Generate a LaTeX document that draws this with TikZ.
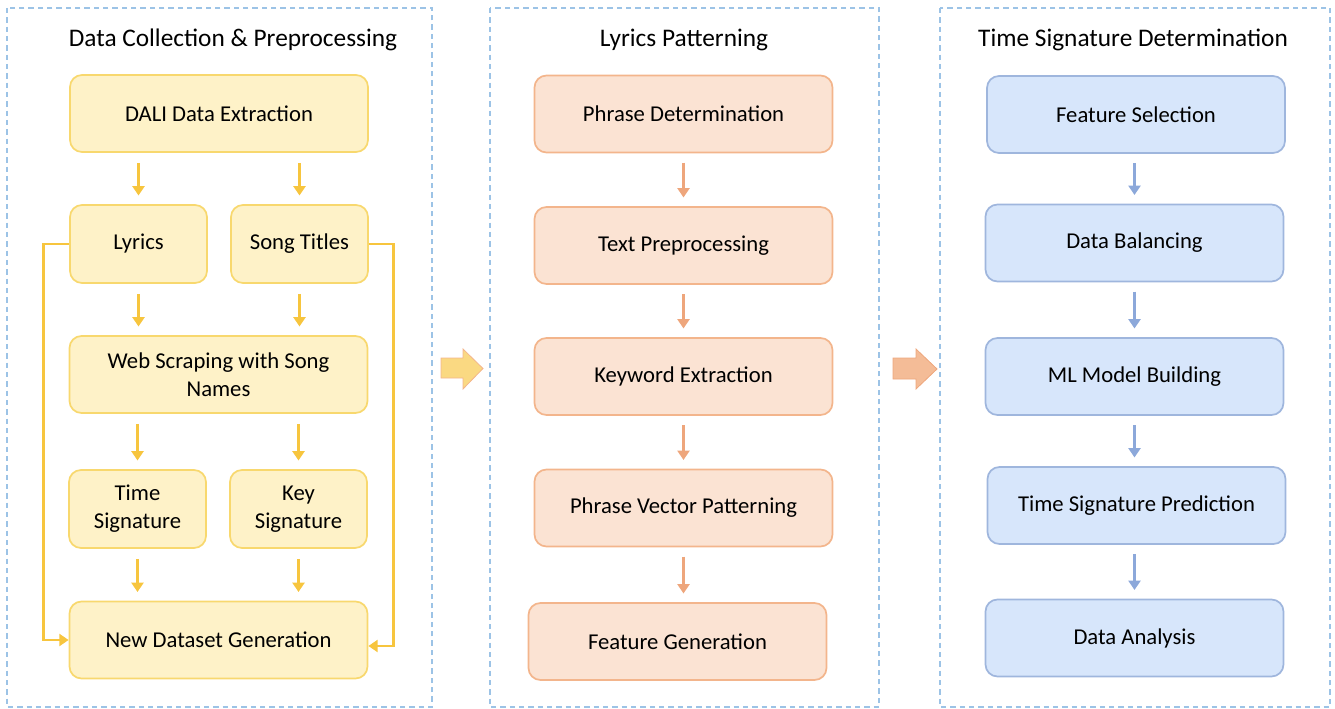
\documentclass[tikz,border=0pt]{standalone}
\usepackage{fontspec}
\setmainfont{Carlito}
\usetikzlibrary{arrows.meta}
\tikzset{
  box/.style={rounded corners=9pt,line width=1.3pt,align=center,inner sep=2pt,
    font=\fontsize{17}{21}\selectfont},
  wide/.style={minimum width=298*0.75pt,minimum height=77*0.75pt},
  small/.style={minimum width=137*0.75pt,minimum height=78*0.75pt},
  ybox/.style={box,draw=yborder,fill=yfill},
  obox/.style={box,draw=oborder,fill=ofill},
  bbox/.style={box,draw=bborder,fill=bfill},
  tip/.style={-{Triangle[width=9pt,length=7pt]}},
  yarr/.style={draw=yline,line width=2.1pt,tip,shorten <=7.5pt,shorten >=6.5pt},
  oarr/.style={draw=oline,line width=1.7pt,tip,shorten <=7pt,shorten >=6.5pt},
  barr/.style={draw=bline,line width=1.7pt,tip,shorten <=7pt,shorten >=6.5pt},
  loop/.style={draw=yline,line width=2.1pt,tip},
  panel/.style={draw=dash,line width=0.9pt,dash pattern=on 4pt off 3pt},
  title/.style={font=\fontsize{19}{22}\selectfont}
}
\begin{document}
\begin{tikzpicture}[x=0.75pt,y=-0.75pt]
  \definecolor{yfill}{HTML}{FEF2C8}
  \definecolor{yborder}{HTML}{F8D86E}
  \definecolor{yline}{HTML}{F7C53E}
  \definecolor{ofill}{HTML}{FBE3D3}
  \definecolor{oborder}{HTML}{F3B58C}
  \definecolor{oline}{HTML}{EEA67C}
  \definecolor{bfill}{HTML}{D7E6FB}
  \definecolor{bborder}{HTML}{9FB6DD}
  \definecolor{bline}{HTML}{8CA8DA}
  \definecolor{dash}{HTML}{9CC3E6}
  \useasboundingbox (0,0) rectangle (1335,709);
  \draw[panel] (7,8) rectangle (432,707);
  \draw[panel] (490,8) rectangle (879,707);
  \draw[panel] (940,8) rectangle (1330,707);
  \node[title] (t1) at (233,40) {Data Collection \& Preprocessing};
  \node[title] (t2) at (684,40) {Lyrics Patterning};
  \node[title] (t3) at (1133,40) {Time Signature Determination};
  % first column
  \node[ybox,wide] (dali) at (219,113.5) {DALI Data Extraction};
  \node[ybox,small] (lyrics) at (138.5,244) {Lyrics};
  \node[ybox,small] (songs) at (299.5,244) {Song Titles};
  \node[ybox,wide] (web) at (218.5,374.5) {Web Scraping with Song\\Names};
  \node[ybox,small] (time) at (137.5,509) {Time\\Signature};
  \node[ybox,small] (key) at (298.5,509) {Key\\Signature};
  \node[ybox,wide] (new) at (218.5,640) {New Dataset Generation};
  \draw[yarr] (lyrics.north |- dali.south) -- (lyrics.north);
  \draw[yarr] (songs.north |- dali.south) -- (songs.north);
  \draw[yarr] (lyrics.south) -- (lyrics.south |- web.north);
  \draw[yarr] (songs.south) -- (songs.south |- web.north);
  \draw[yarr] (time.north |- web.south) -- (time.north);
  \draw[yarr] (key.north |- web.south) -- (key.north);
  \draw[yarr] (time.south) -- (time.south |- new.north);
  \draw[yarr] (key.south) -- (key.south |- new.north);
  \draw[loop] (lyrics.west) -- ++(-26,0) |- (new.west);
  \draw[loop] (songs.east) -- ++(25,0) |- ([yshift=-4.5pt]new.east);
  % second column
  \node[obox,wide] (phrase) at (683.5,114) {Phrase Determination};
  \node[obox,wide] (text) at (683.5,245.5) {Text Preprocessing};
  \node[obox,wide] (keyword) at (683.5,376.5) {Keyword Extraction};
  \node[obox,wide] (vector) at (683.5,508) {Phrase Vector Patterning};
  \node[obox,wide] (feature) at (677.5,641.5) {Feature Generation};
  \draw[oarr] (phrase) -- (text);
  \draw[oarr] (text) -- (keyword);
  \draw[oarr] (keyword) -- (vector);
  \draw[oarr] (vector.south) -- (vector.south |- feature.north);
  % third column
  \node[bbox,wide] (select) at (1136,114.5) {Feature Selection};
  \node[bbox,wide] (balance) at (1134.5,243) {Data Balancing};
  \node[bbox,wide] (model) at (1134.5,376.5) {ML Model Building};
  \node[bbox,wide] (predict) at (1136.5,505.5) {Time Signature Prediction};
  \node[bbox,wide] (analysis) at (1134.5,638) {Data Analysis};
  \draw[barr] (balance.north |- select.south) -- (balance.north);
  \draw[barr] (model.north |- balance.south) -- (model.north);
  \draw[barr] (model.south) -- (model.south |- predict.north);
  \draw[barr] (analysis.north |- predict.south) -- (analysis.north);
  % block arrows
  \draw[fill=yline!65,draw=oborder,line width=0.6pt] (441,358) -- (463,358) -- (463,349)
    -- (483,368.5) -- (463,389) -- (463,378) -- (441,378) -- cycle;
  \draw[fill=oborder!90,draw=oline,line width=0.6pt] (893,358) -- (916,358) -- (916,349)
    -- (937,369) -- (916,389) -- (916,379) -- (893,379) -- cycle;
\end{tikzpicture}
\end{document}
